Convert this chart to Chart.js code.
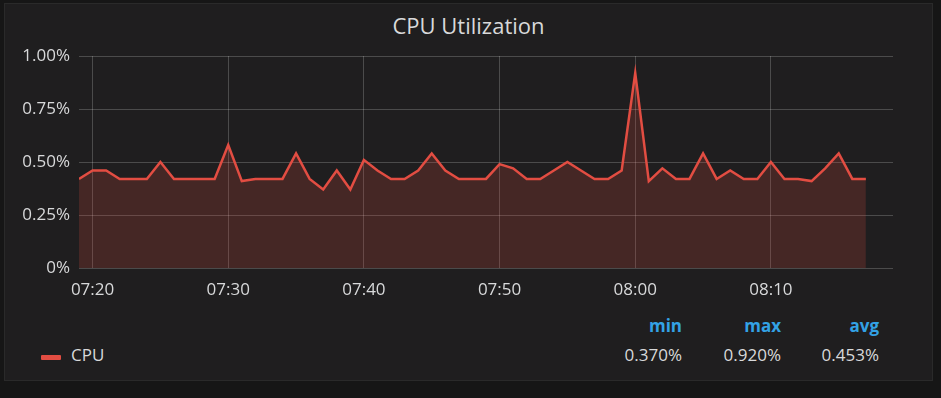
<!DOCTYPE html>
<html>
<head>
<meta charset="utf-8">
<script src="https://cdn.jsdelivr.net/npm/chart.js@4.4.1/dist/chart.umd.min.js"></script>
<style>
  body { margin: 0; background: #161616; width: 941px; height: 398px; overflow: hidden; font-family: "Open Sans", sans-serif; }
  .panel { position: absolute; left: 4px; top: 3px; width: 927px; height: 376px; background: #1f1e1f; border: 1px solid #2a2a2a; }
  .title { position: absolute; left: 0; top: 12px; width: 937px; text-align: center; color: #d8d9da; font-size: 22px; line-height: 26px; font-weight: 500; }
  #chart { position: absolute; left: 0; top: 0; }
  .legend { position: absolute; color: #d8d9da; font-size: 17px; line-height: 20px; }
  .head { color: #33a2e5; font-weight: 700; text-align: right; width: 80px; }
  .val { text-align: right; width: 80px; }
  .swatch { position: absolute; left: 41px; top: 355px; width: 20px; height: 5px; background: #e24d42; border-radius: 1px; }
</style>
</head>
<body>
<div class="panel"></div>
<div class="title">CPU Utilization</div>
<canvas id="chart" width="941" height="310"></canvas>
<div class="swatch"></div>
<div class="legend" style="left:71px; top:345px;">CPU</div>
<div class="legend head" style="left:602px; top:316px;">min</div>
<div class="legend head" style="left:701px; top:316px;">max</div>
<div class="legend head" style="left:799px; top:316px;">avg</div>
<div class="legend val" id="minVal" style="left:602px; top:345px;"></div>
<div class="legend val" id="maxVal" style="left:701px; top:345px;"></div>
<div class="legend val" id="avgVal" style="left:799px; top:345px;"></div>
<script>
// one sample per minute, 07:19 - 08:17
const times = [
    '07:19', '07:20', '07:21', '07:22', '07:23', '07:24', '07:25', '07:26', '07:27', '07:28',
    '07:29', '07:30', '07:31', '07:32', '07:33', '07:34', '07:35', '07:36', '07:37', '07:38',
    '07:39', '07:40', '07:41', '07:42', '07:43', '07:44', '07:45', '07:46', '07:47', '07:48',
    '07:49', '07:50', '07:51', '07:52', '07:53', '07:54', '07:55', '07:56', '07:57', '07:58',
    '07:59', '08:00', '08:01', '08:02', '08:03', '08:04', '08:05', '08:06', '08:07', '08:08',
    '08:09', '08:10', '08:11', '08:12', '08:13', '08:14', '08:15', '08:16', '08:17'
];
const cpu = [
    0.42, 0.46, 0.46, 0.42, 0.42, 0.42, 0.50, 0.42, 0.42, 0.42,
    0.42, 0.58, 0.41, 0.42, 0.42, 0.42, 0.54, 0.42, 0.37, 0.46,
    0.37, 0.51, 0.46, 0.42, 0.42, 0.46, 0.54, 0.46, 0.42, 0.42,
    0.42, 0.49, 0.47, 0.42, 0.42, 0.46, 0.50, 0.46, 0.42, 0.42,
    0.46, 0.92, 0.41, 0.47, 0.42, 0.42, 0.54, 0.42, 0.46, 0.42,
    0.42, 0.50, 0.42, 0.42, 0.41, 0.47, 0.54, 0.42, 0.42
];
const xTicks = ['07:20', '07:30', '07:40', '07:50', '08:00', '08:10'];
const yTicks = [0, 0.25, 0.5, 0.75, 1];
const xStart = '07:19';
const xEnd = '08:19';

const toMin = t => {
    const [h, m] = t.split(':').map(Number);
    return h * 60 + m;
};
const fmtTime = v => {
    const h = Math.floor(v / 60), m = v % 60;
    return String(h).padStart(2, '0') + ':' + String(m).padStart(2, '0');
};

// legend stats
const min = Math.min(...cpu);
const max = Math.max(...cpu);
const avg = cpu.reduce((a, b) => a + b, 0) / cpu.length;
document.getElementById('minVal').textContent = min.toFixed(3) + '%';
document.getElementById('maxVal').textContent = max.toFixed(3) + '%';
document.getElementById('avgVal').textContent = avg.toFixed(3) + '%';

const tickFont = { family: 'Open Sans', size: 17 };
const gridColor = 'rgba(255, 255, 255, 0.2)';

new Chart(document.getElementById('chart').getContext('2d'), {
    type: 'line',
    data: {
        datasets: [{
            label: 'CPU',
            data: times.map((t, i) => ({ x: toMin(t), y: cpu[i] })),
            borderColor: '#e24d42',
            backgroundColor: 'rgba(226, 77, 66, 0.2)',
            borderWidth: 2.5,
            fill: 'origin',
            pointRadius: 0,
            tension: 0
        }]
    },
    options: {
        responsive: false,
        animation: false,
        layout: { padding: { left: 0, top: 56, right: 48, bottom: 0 } },
        plugins: { legend: { display: false }, title: { display: false }, tooltip: { enabled: false } },
        scales: {
            x: {
                type: 'linear',
                min: toMin(xStart),
                max: toMin(xEnd),
                afterBuildTicks: axis => { axis.ticks = xTicks.map(t => ({ value: toMin(t) })); },
                afterFit: axis => { axis.height = 42; },
                grid: { color: gridColor, drawTicks: false },
                border: { display: false },
                ticks: { color: '#d8d9da', font: tickFont, padding: 12, maxRotation: 0, callback: v => fmtTime(v) }
            },
            y: {
                min: 0,
                max: 1,
                afterBuildTicks: axis => { axis.ticks = yTicks.map(v => ({ value: v })); },
                afterFit: axis => { axis.width = 79; },
                grid: { color: gridColor, drawTicks: false },
                border: { display: false },
                ticks: { color: '#d8d9da', font: tickFont, padding: 9, callback: v => v === 0 ? '0%' : v.toFixed(2) + '%' }
            }
        }
    }
});
</script>
</body>
</html>
